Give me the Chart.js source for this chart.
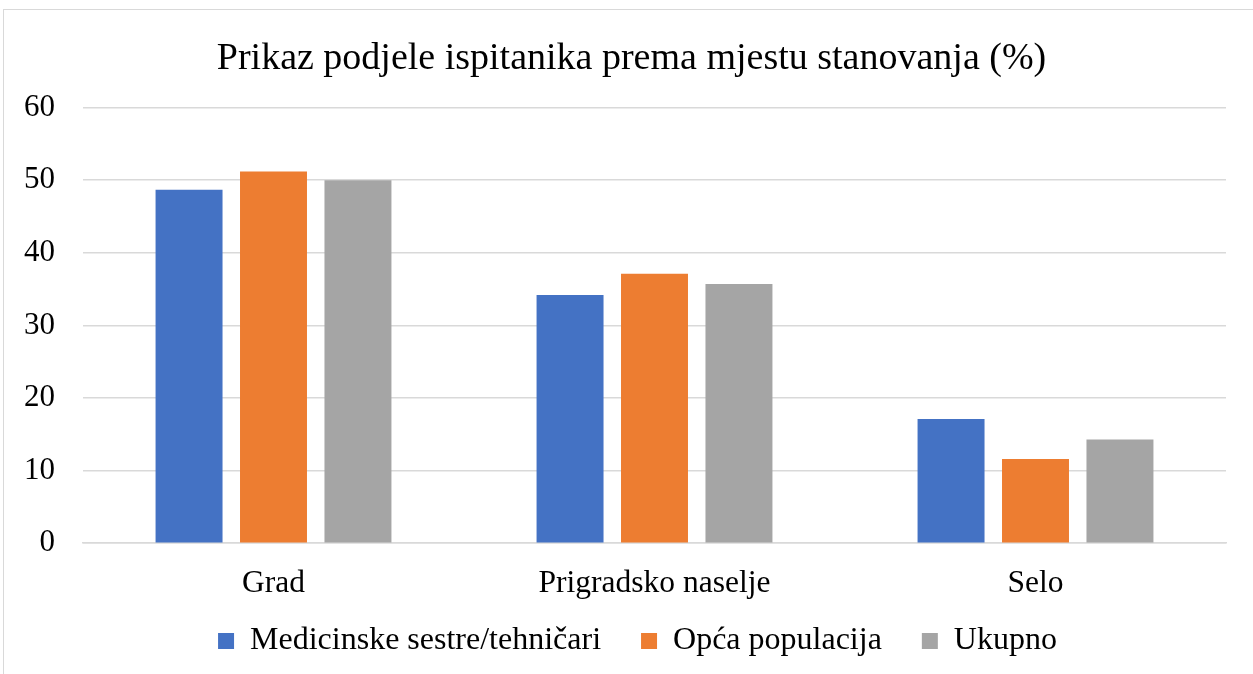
<!DOCTYPE html>
<html>
<head>
<meta charset="utf-8">
<script src="https://cdn.jsdelivr.net/npm/chart.js@4"></script>
<style>
  html, body { margin: 0; padding: 0; background: #ffffff; }
  #wrap { position: relative; width: 1253px; height: 674px; overflow: hidden; }
  #frame { position: absolute; left: 3px; top: 9px; width: 1300px; height: 700px; border: 1px solid #d9d9d9; box-sizing: border-box; }
  #c { position: absolute; left: 0; top: 0; }
</style>
</head>
<body>
<div id="wrap">
  <div id="frame"></div>
  <canvas id="c" width="1253" height="674"></canvas>
</div>
<script>
const titleText = "Prikaz podjele ispitanika prema mjestu stanovanja (%)";
const categories = ["Grad", "Prigradsko naselje", "Selo"];
const seriesNames = ["Medicinske sestre/tehničari", "Opća populacija", "Ukupno"];
const medicinskeSestre = [48.7, 34.2, 17.1];
const opcaPopulacija = [51.2, 37.1, 11.6];
const ukupno = [50.0, 35.7, 14.3];
const yTicks = [0, 10, 20, 30, 40, 50, 60];
const colors = ["#4472c4", "#ed7d31", "#a5a5a5"];

const fontFamily = "'Liberation Serif', 'Times New Roman', serif";

// Fine placement of the legend row and un-clipping of y tick labels
const placement = {
  id: 'placement',
  afterLayout(chart) {
    const lg = chart.legend;
    if (lg) {
      lg.top = 585;
      lg.bottom = 674;
      lg.height = lg.bottom - lg.top;
      lg.left += 6;
      lg.right += 6;
    }
    const y = chart.scales.y;
    if (y) { y.left = 0; }
  }
};

new Chart(document.getElementById('c'), {
  type: 'bar',
  data: {
    labels: categories,
    datasets: [
      { label: seriesNames[0], data: medicinskeSestre, backgroundColor: colors[0] },
      { label: seriesNames[1], data: opcaPopulacija, backgroundColor: colors[1] },
      { label: seriesNames[2], data: ukupno, backgroundColor: colors[2] }
    ]
  },
  plugins: [placement],
  options: {
    responsive: false,
    animation: false,
    devicePixelRatio: 1,
    datasets: { bar: { categoryPercentage: 0.665, barPercentage: 0.793 } },
    layout: { padding: { left: 37, right: 27, top: 36, bottom: 5 } },
    plugins: {
      title: {
        display: true, text: titleText, color: '#000000',
        font: { family: fontFamily, size: 38, weight: 'normal' },
        padding: { top: 0, bottom: 26 }
      },
      legend: {
        position: 'bottom',
        maxHeight: 44,
        labels: {
          color: '#000000',
          font: { family: fontFamily, size: 32 },
          boxWidth: 16, boxHeight: 16, padding: 40
        }
      },
      tooltip: { enabled: false }
    },
    scales: {
      x: {
        grid: { display: false, drawTicks: false },
        border: { display: true, color: '#d9d9d9', width: 1.5 },
        ticks: { color: '#000000', font: { family: fontFamily, size: 31.5 }, padding: 22 }
      },
      y: {
        min: 0, max: 60,
        afterBuildTicks: (axis) => { axis.ticks = yTicks.map(v => ({ value: v })); },
        afterFit: (axis) => { axis.width = 46; },
        grid: { color: '#d9d9d9', drawTicks: false, lineWidth: 1.5 },
        border: { display: false },
        ticks: { color: '#000000', font: { family: fontFamily, size: 31 }, padding: 28 }
      }
    }
  }
});
</script>
</body>
</html>
